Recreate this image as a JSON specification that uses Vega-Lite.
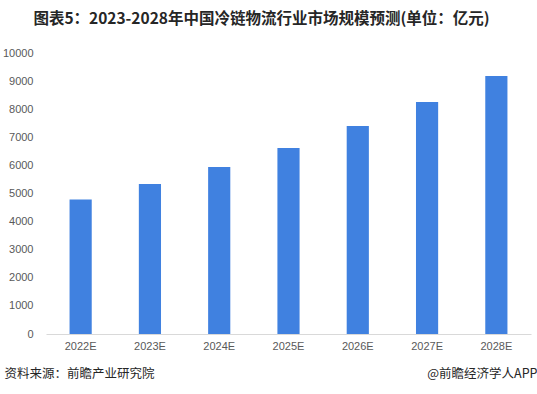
{
  "$schema": "https://vega.github.io/schema/vega-lite/v6.json",
  "autosize": "none",
  "width": 485,
  "height": 281,
  "padding": {"left": 46, "top": 53, "right": 6, "bottom": 60},
  "background": "white",
  "title": {
    "text": "图表5：2023-2028年中国冷链物流行业市场规模预测(单位：亿元)",
    "font": "Noto Sans CJK SC",
    "fontSize": 15.5,
    "fontWeight": "bold",
    "color": "#262626",
    "anchor": "middle",
    "dx": -27,
    "offset": 20
  },
  "data": {
    "values": [
      {"year": "2022E", "value": 4790},
      {"year": "2023E", "value": 5340},
      {"year": "2024E", "value": 5940},
      {"year": "2025E", "value": 6620},
      {"year": "2026E", "value": 7400},
      {"year": "2027E", "value": 8260},
      {"year": "2028E", "value": 9180}
    ]
  },
  "mark": {"type": "bar", "color": "#4081E0"},
  "encoding": {
    "x": {
      "field": "year",
      "type": "nominal",
      "sort": null,
      "scale": {"paddingInner": 0.68, "paddingOuter": 0.34},
      "axis": {
        "title": "资料来源：前瞻产业研究院",
        "titleFont": "Noto Sans CJK SC",
        "titleFontSize": 12.5,
        "titleFontWeight": "normal",
        "titleColor": "#262626",
        "titleAnchor": "start",
        "titleAlign": "left",
        "titleBaseline": "middle",
        "titleX": -42,
        "titleY": 39,
        "labelAngle": 0,
        "labelFont": "Liberation Sans",
        "labelFontSize": 11,
        "labelColor": "#595959",
        "labelPadding": 6,
        "ticks": false,
        "domainColor": "#d9d9d9",
        "grid": false
      }
    },
    "y": {
      "field": "value",
      "type": "quantitative",
      "scale": {"domain": [0, 10000], "nice": false},
      "axis": {
        "values": [0, 1000, 2000, 3000, 4000, 5000, 6000, 7000, 8000, 9000, 10000],
        "format": "d",
        "title": "@前瞻经济学人APP",
        "titleFont": "Noto Sans CJK SC",
        "titleFontSize": 12.5,
        "titleFontWeight": "normal",
        "titleColor": "#262626",
        "titleAngle": 0,
        "titleAlign": "right",
        "titleBaseline": "middle",
        "titleX": 491,
        "titleY": 320,
        "labelFont": "Liberation Sans",
        "labelFontSize": 11,
        "labelColor": "#595959",
        "labelPadding": 13,
        "ticks": false,
        "domain": false,
        "grid": false
      }
    }
  },
  "config": {"view": {"stroke": null}}
}
